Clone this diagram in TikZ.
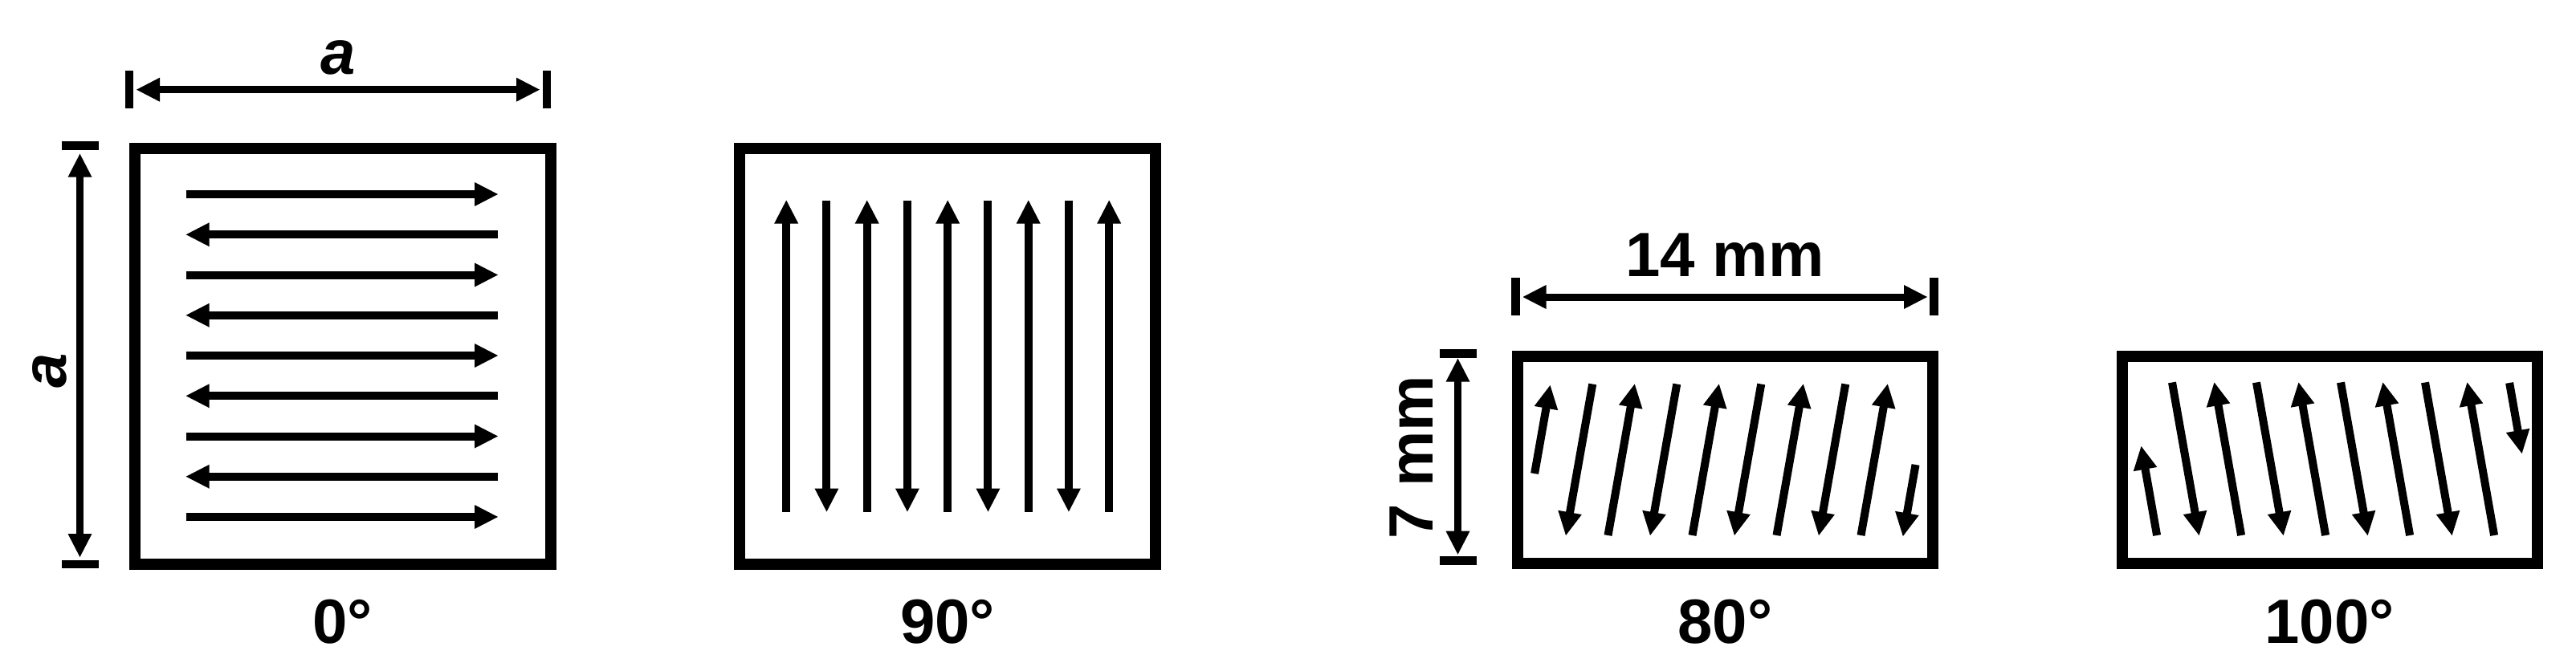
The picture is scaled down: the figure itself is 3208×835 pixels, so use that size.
\documentclass[tikz,border=0pt]{standalone}
\usepackage{fontspec}
\setmainfont{Liberation Sans}
\usetikzlibrary{arrows.meta}
\pgfdeclarearrow{
  name = BigTri,
  defaults = { length = 29pt, width = 30pt },
  setup code = {
    \pgfarrowssettipend{\pgfarrowlength}
    \pgfarrowssetlineend{0.5\pgfarrowlength}
    \pgfarrowssavethe\pgfarrowlength
    \pgfarrowssavethe\pgfarrowwidth
  },
  drawing code = {
    \pgfpathmoveto{\pgfqpoint{\pgfarrowlength}{0pt}}
    \pgfpathlineto{\pgfqpoint{0pt}{0.5\pgfarrowwidth}}
    \pgfpathlineto{\pgfqpoint{0pt}{-0.5\pgfarrowwidth}}
    \pgfpathclose
    \pgfusepathqfill
  },
  parameters = { \the\pgfarrowlength,\the\pgfarrowwidth },
}
\begin{document}
\begin{tikzpicture}[x=1pt,y=-1pt,
  boxline/.style={line width=14pt, line join=miter},
  flowarr/.style={line width=10pt, -{BigTri}},
  dimarr/.style={line width=9pt, {BigTri}-{BigTri}},
  dimbar/.style={line width=10.5pt},
  lbl/.style={font=\fontsize{78}{80}\selectfont\bfseries, inner sep=0pt, anchor=base}]
\useasboundingbox (0,0) rectangle (3208,835);
% ---------- panel 1 : 0 deg ----------
\draw[boxline] (167.8,184.7) rectangle (685.5,703.3);
\foreach \i in {0,...,8} {
  \pgfmathsetmacro\yy{242+50.25*\i}
  \ifodd\i
    \draw[flowarr] (620,\yy) -- (231.7,\yy);
  \else
    \draw[flowarr] (231.7,\yy) -- (620,\yy);
  \fi
}
\draw[dimbar] (161,88) -- (161,135);
\draw[dimbar] (681,88) -- (681,135);
\coordinate (t1a) at (170,111.7);
\coordinate (t1b) at (672,111.7);
\draw[dimarr] (t1a) -- (t1b);
\node[lbl, font=\fontsize{78}{80}\selectfont\bfseries\itshape] (lblA1) at (421,92.3) {a};
\draw[dimbar] (76.7,181.7) -- (122.7,181.7);
\draw[dimbar] (76.7,703) -- (122.7,703);
\coordinate (l1a) at (99.5,191.7);
\coordinate (l1b) at (99.5,694);
\draw[dimarr] (l1a) -- (l1b);
\node[lbl, rotate=90, font=\fontsize{78}{80}\selectfont\bfseries\itshape] (lblA2) at (82.4,462) {a};
\node[lbl] (lbl0) at (426.7,801.5) {0°};
% ---------- panel 2 : 90 deg ----------
\draw[boxline] (921,184.7) rectangle (1439,703.3);
\foreach \i in {0,...,8} {
  \pgfmathsetmacro\xx{979.2+50.25*\i}
  \ifodd\i
    \draw[flowarr] (\xx,249.5) -- (\xx,637.5);
  \else
    \draw[flowarr] (\xx,637.5) -- (\xx,249.5);
  \fi
}
\node[lbl] (lbl90) at (1180,801.5) {90°};
% ---------- panel 3 : 80 deg ----------
\draw[boxline] (1889.7,443.7) rectangle (2407.2,702.2);
\foreach \k in {0,...,7} {
  \pgfmathsetmacro\xb{1950+52.5*\k}
  \pgfmathsetmacro\xt{\xb+188.5*0.17633}
  \ifodd\k
    \draw[flowarr] (\xb,667) -- (\xt,478.5);
  \else
    \draw[flowarr] (\xt,478.5) -- (\xb,667);
  \fi
}
% partial lines at both ends
\draw[flowarr] ({1897.5+77*0.17633},590) -- ({1897.5+187*0.17633},480);
\draw[flowarr] ({2370+88*0.17633},579) -- ({2370-1*0.17633},668);
\draw[dimbar] (1887.7,346) -- (1887.7,392.7);
\draw[dimbar] (2408.6,346) -- (2408.6,392.7);
\coordinate (t3a) at (1896.5,370);
\coordinate (t3b) at (2400,370);
\draw[dimarr] (t3a) -- (t3b);
\node[lbl] (lbl14) at (2148,344.7) {14 mm};
\draw[dimbar] (1792.5,440.5) -- (1838.5,440.5);
\draw[dimbar] (1792.5,698.3) -- (1838.5,698.3);
\coordinate (l3a) at (1815.5,446.7);
\coordinate (l3b) at (1815.5,690.7);
\draw[dimarr] (l3a) -- (l3b);
\node[lbl, rotate=90] (lbl7) at (1784,570) {7 mm};
\node[lbl] (lbl80) at (2148.5,801.5) {80°};
% ---------- panel 4 : 100 deg ----------
\draw[boxline] (2643,443.7) rectangle (3160,702.2);
\foreach \k in {0,...,7} {
  \pgfmathsetmacro\xt{2705+52.5*\k}
  \pgfmathsetmacro\xb{\xt+190.5*0.17633}
  \ifodd\k
    \draw[flowarr] (\xb,667) -- (\xt,476.5);
  \else
    \draw[flowarr] (\xt,476.5) -- (\xb,667);
  \fi
}
\draw[flowarr] ({2652.5+190.5*0.17633},667) -- ({2652.5+79.5*0.17633},556);
\draw[flowarr] ({3125+0.5*0.17633},477) -- ({3125+88.5*0.17633},565);
\node[lbl] (lbl100) at (2901,801.5) {100°};
\end{tikzpicture}
\end{document}
